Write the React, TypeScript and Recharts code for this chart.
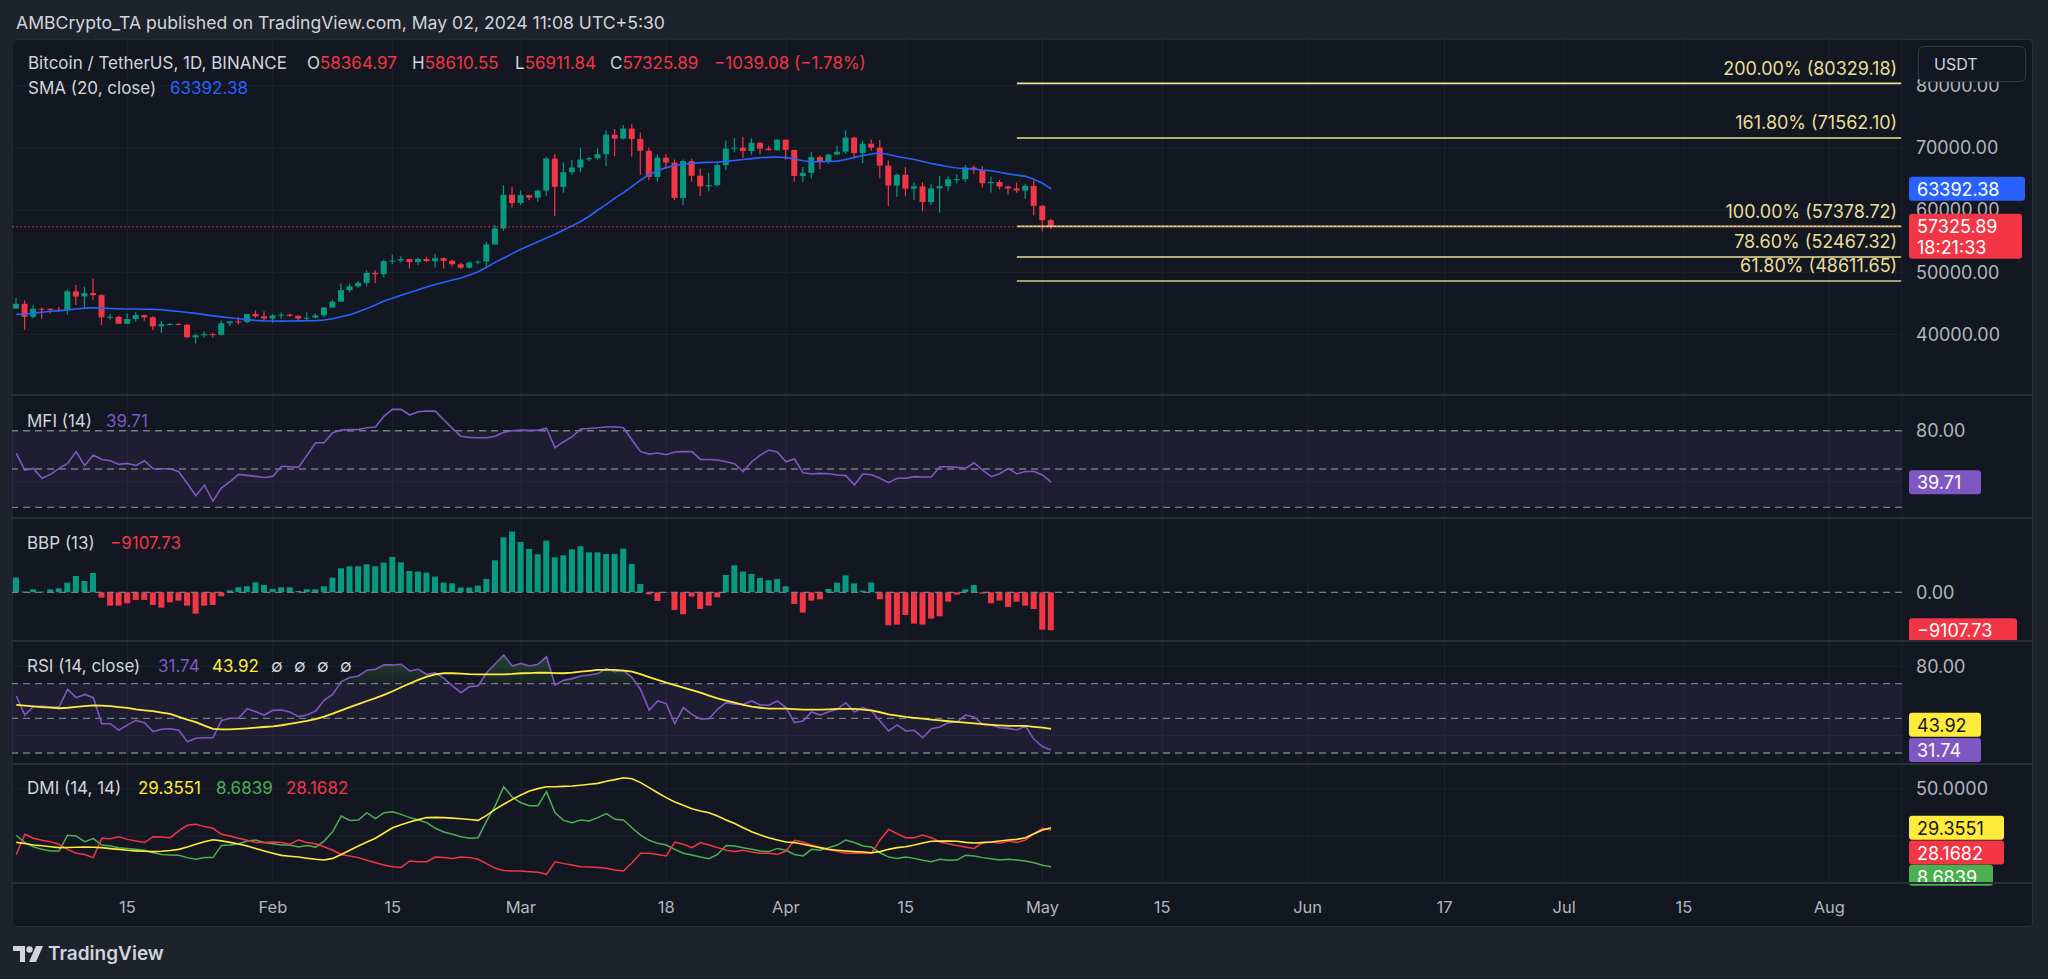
import React from "react";
import {
  ComposedChart,
  Bar,
  Line,
  Area,
  XAxis,
  YAxis,
  CartesianGrid,
  ReferenceLine,
  ReferenceArea,
  Cell,
} from "recharts";

// BTC/USDT 1D, index 0 = 2 Jan 2024 ... index 121 = 2 May 2024
const OPEN = [44180,44947,42845,44151,44145,43968,43929,46951,46110,46654,46339,42783,42848,41732,42511,43138,42776,41328,41659,41696,41580,39568,39898,40085,39961,41824,42121,42031,43303,42941,42580,43083,43200,43011,42583,42709,43099,44350,45289,47133,47751,48300,49917,49700,51795,51880,52124,51643,52138,51775,52259,51849,51288,50744,51568,51729,54476,57037,62432,61131,62388,61987,63114,68246,63724,66074,66823,68124,68313,68956,72078,71452,73072,71389,69500,65301,68393,67610,61937,67841,65501,63797,63990,67210,69880,69988,69470,70781,69851,69582,71280,69650,65464,65963,68488,67821,68896,69360,71620,69146,70631,70006,67117,63925,65662,63420,63793,61277,63470,63818,64941,64941,66819,66414,64290,64498,63770,63462,63119,63866,60672,58365];
const HIGH = [45900,45500,44730,44357,44214,44481,47249,47972,47696,48969,46516,43257,43079,43400,43578,43198,42930,42197,41873,41881,41690,40177,40555,40300,42247,42200,42843,43333,43882,43745,43285,43488,43380,43119,43570,43400,44397,45614,48200,48170,48593,50335,50369,52044,52817,52572,52163,52377,52489,52985,52367,52066,51549,51698,51950,54910,57588,64000,63676,63114,62433,63232,68499,69000,67641,68030,69990,68541,69888,72800,73000,73650,73777,72420,70043,68904,68956,68124,68100,68240,66650,65999,67629,71150,71561,71770,71552,70916,70321,71366,71288,69674,66904,69310,68757,69000,70326,72798,71758,71172,71306,71227,67929,65840,66867,64365,64499,64117,65450,65419,65696,67232,67183,67070,65298,64838,63923,64370,64228,64734,60842,58611];
const LOW = [44177,40750,42614,42450,43397,43572,43175,44749,44300,45606,41500,42436,41720,41718,42050,42201,40683,40280,41456,41501,39432,38555,39484,39550,39823,41394,41621,41805,42684,42277,41884,42547,42880,42222,42258,42574,42788,44331,45242,46800,47557,47710,48301,49225,51314,51566,50625,51163,51677,50760,50625,50941,50521,50585,51306,50901,54450,56692,60365,60777,61561,61320,62300,59005,62779,65656,66083,67861,68095,67025,68621,71333,68555,65600,64780,64533,66565,61555,60775,64529,62260,63000,63772,66385,69280,68359,68904,69009,69540,69563,68063,64550,64493,65065,66578,67448,68824,69043,68210,67518,69567,65087,60661,62134,62274,61600,59769,60803,59600,63090,64238,64500,65766,63606,62794,63297,62391,62781,61766,59192,56553,56912];
const CLOSE = [44947,42845,44151,44145,43968,43929,46951,46110,46654,46339,42783,42848,41732,42511,43138,42776,41328,41659,41696,41580,39568,39898,40085,39961,41824,42121,42031,43303,42941,42580,43083,43200,43011,42583,42709,43099,44350,45289,47133,47751,48300,49917,49700,51795,51880,52124,51643,52138,51775,52259,51849,51288,50744,51568,51729,54476,57037,62432,61131,62388,61987,63114,68246,63724,66074,66823,68124,68313,68956,72078,71452,73072,71389,69500,65301,68393,67610,61937,67841,65501,63797,63990,67210,69880,69988,69470,70781,69851,69582,71280,69650,65464,65963,68488,67821,68896,69360,71620,69146,70631,70006,67117,63925,65662,63420,63793,61277,63470,63818,64941,64941,66819,66414,64290,64498,63770,63462,63119,63866,60672,58365,57325.89];
const SMA20 = [43250,43300,43450,43600,43750,43850,43950,44100,44250,44300,44250,44200,44150,44120,44100,44080,44050,44000,43850,43700,43550,43400,43200,43000,42850,42700,42550,42400,42280,42200,42180,42170,42180,42200,42220,42250,42350,42550,42850,43200,43650,44200,44750,45400,45850,46300,46750,47200,47650,48050,48400,48750,49100,49550,50100,50800,51600,52300,53000,53700,54300,54900,55500,56100,56800,57450,58150,59000,60000,60900,61900,62800,63800,64800,65700,66300,66800,67150,67350,67500,67600,67650,67700,67800,67950,68100,68250,68400,68450,68500,68400,68200,67900,67750,67750,67800,67850,68100,68450,68750,69000,69150,68900,68600,68350,68100,67800,67450,67200,66950,66750,66650,66550,66400,66300,66050,65800,65600,65400,64950,64300,63392.38];
const MFI = [62.2,49.2,50.5,42.7,45.8,50.5,54.4,63.6,52.6,60.9,57.5,56.5,53.6,54.4,52.8,56.5,50.2,50.2,50.2,47.9,38.7,29.1,37.4,24.9,35.3,40.1,45.8,45.0,44.2,43.4,44.2,52.1,51.8,51.3,60.9,70.6,70.6,78.4,80.5,81.0,81.0,82.3,82.9,91.5,96.7,96.7,92.3,94.9,95.4,95.4,88.4,81.8,75.6,74.8,74.5,74.5,75.6,78.7,80.0,80.5,80.3,80.3,82.0,66.7,71.4,75.3,81.3,81.8,82.3,82.9,83.1,82.3,72.7,63.6,61.7,62.5,61.2,63.3,63.6,63.6,57.5,57.5,57.0,55.7,54.2,47.9,55.7,60.9,64.9,63.3,55.7,57.8,47.1,46.1,46.6,46.3,45.3,44.8,37.4,46.1,45.5,42.7,39.3,42.7,42.7,44.0,43.7,43.7,51.8,51.8,51.3,50.5,54.9,49.2,44.0,46.3,50.5,46.1,48.1,48.1,45.3,39.71];
const BBP = [3520,160,720,160,720,960,2320,3920,2720,4640,-1280,-3200,-3200,-2640,-1840,-1840,-3040,-3680,-2400,-2000,-3200,-5120,-3200,-3040,-960,480,1200,1440,2400,1760,800,1200,1200,320,720,720,1440,3520,5760,6240,6240,6720,6240,7120,8480,7200,5120,4960,4720,3760,2320,2160,1120,1120,1600,3200,7680,13200,14560,12080,10400,9120,12400,8400,8880,10320,11040,9600,9600,9200,9200,10480,6800,2000,-480,-2080,-100,-4240,-5280,-1040,-4000,-3200,-1200,4160,6480,4960,4400,3440,2880,3200,1440,-2800,-4880,-2000,-1680,800,2320,4080,2160,400,2320,-1680,-7920,-7760,-5440,-7520,-7760,-6320,-5760,-2240,-560,720,1760,-320,-2640,-2000,-3520,-2240,-3200,-4000,-8960,-9107.73];
const RSI = [62.9,51.9,56.7,57.1,56.5,56.5,66.7,61.9,63.8,61.9,46.9,46.9,43.1,46.2,48.8,47.5,42.3,43.7,44.0,43.1,36.5,38.5,38.8,38.8,48.8,50.0,50.0,55.6,53.8,51.9,54.6,54.8,53.7,51.0,51.9,54.2,60.4,63.8,71.2,73.5,74.4,77.7,78.3,80.8,80.8,81.2,77.3,78.3,75.4,76.3,73.1,68.7,64.8,68.3,68.7,76.3,81.5,86.5,80.2,81.7,80.2,81.2,85.5,69.2,71.9,72.9,74.4,75.0,75.8,78.7,76.9,77.7,73.5,66.7,54.8,60.0,58.5,46.9,56.2,52.3,49.6,49.8,55.2,59.0,58.1,58.1,60.0,57.7,57.5,60.0,56.2,47.5,48.5,53.7,51.9,53.8,55.2,59.0,53.7,56.2,54.2,48.5,42.7,46.2,42.7,43.1,38.8,44.0,45.0,47.5,47.9,51.9,50.8,46.5,46.2,44.6,44.2,43.3,45.6,37.9,33.7,31.74];
const RSI_MA = [57.7,57.3,56.9,56.5,56.2,55.8,56.1,56.6,57.0,57.5,57.3,57.0,56.5,56.0,55.2,54.6,54.1,53.3,52.5,50.8,49.2,47.8,45.8,43.9,43.6,43.6,43.9,44.2,44.6,45.0,45.4,46.0,46.8,47.6,48.5,49.6,51.0,52.7,54.6,56.5,58.2,60.0,61.6,63.5,65.6,67.9,70.1,72.2,74.0,75.4,76.0,76.0,75.8,75.5,75.4,75.4,75.4,75.4,75.6,76.0,76.1,76.3,76.3,76.1,76.0,76.3,76.9,77.4,77.9,78.0,77.9,77.5,76.9,75.5,73.8,72.2,70.6,69.2,67.7,66.2,64.8,63.1,61.5,60.2,59.0,57.8,56.7,56.1,55.6,55.6,55.6,55.3,55.0,55.0,55.0,55.2,55.4,55.4,55.4,55.0,54.6,53.5,52.3,51.5,50.8,50.3,49.8,49.3,48.8,48.3,47.9,47.5,47.1,46.6,46.2,45.9,45.6,45.6,45.6,45.1,44.6,43.92];
const ADX = [21.6,21.0,20.2,19.8,19.3,18.8,18.9,19.0,19.1,19.0,18.8,18.3,17.9,17.4,17.1,16.9,16.7,16.9,17.3,17.9,19.1,20.6,21.9,23.0,22.4,21.6,20.7,19.7,18.3,17.0,15.8,14.7,14.2,13.8,13.2,12.6,12.2,13.1,15.2,17.4,19.7,21.8,23.8,26.6,29.4,31.0,32.4,33.7,34.8,34.9,34.8,34.5,34.2,33.8,33.3,36.0,39.2,41.9,44.5,46.8,48.9,50.2,51.2,51.2,51.4,51.6,52.0,52.5,53.0,54.1,55.0,56.0,55.5,53.4,50.7,48.0,45.4,43.1,41.3,39.5,38.3,37.4,35.6,33.5,31.6,29.4,27.3,25.5,24.1,22.9,21.8,21.5,20.6,19.7,18.8,17.9,17.4,17.0,16.7,16.5,16.1,16.7,17.9,18.8,19.3,20.2,21.3,22.2,22.3,22.3,22.2,21.6,21.3,21.5,21.8,22.3,22.9,23.2,24.1,26.2,28.2,29.3551];
const PLUS_DI = [25.4,21.5,19.3,17.9,17.0,17.0,25.4,25.0,22.0,23.6,20.2,19.7,18.8,18.4,17.9,17.4,16.1,15.2,14.9,14.7,13.5,12.6,13.5,13.5,20.0,20.2,20.9,22.3,22.9,21.5,20.9,20.2,20.2,19.1,19.9,19.1,22.3,27.3,35.6,33.3,33.5,37.4,34.2,37.4,37.9,36.5,34.8,33.5,32.1,29.1,27.1,25.9,24.6,23.8,24.1,33.0,41.0,51.2,45.7,42.7,41.1,41.1,48.6,37.4,33.3,32.1,33.5,33.0,34.8,36.9,33.9,33.5,29.4,25.5,22.7,21.1,20.2,17.9,15.8,14.9,13.8,12.9,15.2,20.0,19.7,18.8,17.9,17.0,16.7,18.4,17.4,15.2,14.4,17.9,17.4,18.8,20.2,22.9,21.5,19.7,19.1,16.1,13.8,13.1,13.8,13.1,12.1,11.3,12.6,12.1,12.2,14.7,14.4,13.5,12.9,12.2,12.6,12.2,11.7,10.8,9.4,8.6839];
const MINUS_DI = [15.2,25.9,23.8,22.7,22.0,20.6,17.9,15.8,15.2,13.5,23.8,23.6,24.6,23.2,22.3,21.5,24.6,24.5,24.1,27.7,30.7,31.2,30.0,29.1,25.9,25.0,23.8,22.7,21.5,21.5,21.8,21.5,20.6,22.9,21.5,20.9,19.3,17.4,15.2,14.4,13.5,12.1,10.8,9.6,8.7,8.2,11.7,11.3,11.3,13.8,13.5,13.1,13.8,13.5,12.6,10.3,7.8,6.7,6.4,6.4,6.0,5.7,4.6,11.3,10.3,9.6,8.7,8.5,8.2,7.8,6.9,6.4,10.8,15.8,15.8,15.2,14.4,21.8,20.6,18.8,21.5,20.2,18.8,17.4,16.7,17.4,16.5,15.8,15.8,15.2,17.0,22.7,21.8,20.2,18.8,17.9,16.7,15.8,15.8,15.8,15.8,22.9,28.5,26.2,24.1,24.1,25.5,24.1,21.8,20.9,20.0,19.1,18.4,21.5,21.8,21.1,22.3,21.6,22.9,26.2,29.1,28.1682];

// time axis (day index -> label)
const TICK_IDX = [13, 30, 44, 59, 76, 90, 104, 120, 134, 151, 167, 181, 195, 212];
const TICK_LABELS = ["15", "Feb", "15", "Mar", "18", "Apr", "15", "May", "15", "Jun", "17", "Jul", "15", "Aug"];

// fib extension drawn from 28 Apr
const FIB_START = 117;
const FIB_PCT = ["200.00%", "161.80%", "100.00%", "78.60%", "61.80%"];
const FIB_PRICE = [80329.18, 71562.1, 57378.72, 52467.32, 48611.65];

const PRICE_TICKS = [40000, 50000, 60000, 70000, 80000];
const PRICE_DOMAIN: [number, number] = [30305, 87448];

const UP = "#089981";
const DOWN = "#f23645";
const PURPLE = "#7e57c2";
const YELLOW = "#ffeb3b";
const GREEN = "#4caf50";
const BLUE = "#2962ff";
const TXT = "#d1d4dc";
const AXIS_TXT = "#b2b5be";
const GRID = "#1f232e";
const HLINE = "#787b86";
const FONT = "Inter, 'Noto Sans', sans-serif";
const AXIS_FS = 18;

const rows = CLOSE.map((c, i) => ({
  i,
  o: OPEN[i],
  h: HIGH[i],
  l: LOW[i],
  c,
  sma: SMA20[i],
  mfi: MFI[i],
  bbp: BBP[i],
  rsi: RSI[i],
  rsiMa: RSI_MA[i],
  adx: ADX[i],
  pdi: PLUS_DI[i],
  mdi: MINUS_DI[i],
}));

const LEFT = 12;
const CHART_W = 2021;
const AXIS_W = 131;
const X_DOMAIN: [number, number] = [-0.5, 220.5];

function Candle(props: any) {
  const { x, y, width, height, payload } = props;
  if (!payload || height == null) return null;
  const { o, h, l, c } = payload;
  const color = c >= o ? UP : DOWN;
  const span = h - l || 1;
  const py = (v: number) => y + ((h - v) / span) * height;
  const cx = x + width / 2;
  const top = py(Math.max(o, c));
  const bot = py(Math.min(o, c));
  return (
    <g>
      <line x1={cx} x2={cx} y1={y} y2={y + height} stroke={color} strokeWidth={1.2} />
      <rect x={x} y={top} width={width} height={Math.max(1, bot - top)} fill={color} />
    </g>
  );
}

function Tag(props: any) {
  const { viewBox, lines, bg, fg = "#ffffff", w, h = 24, dy = 0 } = props;
  if (!viewBox) return null;
  const x = viewBox.x + viewBox.width + 7;
  const top = viewBox.y + dy - 12;
  return (
    <g>
      <rect x={x} y={top} width={w} height={h} rx={3} fill={bg} />
      {lines.map((t: string, k: number) => (
        <text
          key={k}
          x={x + 8}
          y={top + 12.5 + k * 21}
          dominantBaseline="central"
          fill={fg}
          fontSize={AXIS_FS}
          fontFamily={FONT}
        >
          {t}
        </text>
      ))}
    </g>
  );
}

function FibLabel(props: any) {
  const { viewBox, text } = props;
  if (!viewBox) return null;
  return (
    <text
      x={viewBox.x + viewBox.width - 4}
      y={viewBox.y - 15}
      textAnchor="end"
      dominantBaseline="central"
      fill="#e9de96"
      fontSize={18}
      fontFamily={FONT}
    >
      {text}
    </text>
  );
}

const hiddenX = () => (
  <XAxis dataKey="i" type="number" domain={X_DOMAIN} ticks={TICK_IDX} allowDataOverflow hide />
);

// ticks listed in `silent` keep their grid line but their text sits under a value tag
const rightAxis = (domain: [number, number], ticks: number[], digits: number, silent: number[] = []) => (
  <YAxis
    orientation="right"
    domain={domain}
    ticks={ticks}
    allowDataOverflow
    interval={0}
    width={AXIS_W}
    axisLine={false}
    tickLine={false}
    tickSize={0}
    tickMargin={14}
    tick={{ fill: AXIS_TXT, fontSize: AXIS_FS, fontFamily: FONT }}
    tickFormatter={(v: number) => (silent.includes(v) ? "" : v.toFixed(digits))}
  />
);

function T({ x, y, color = TXT, size = 17, weight = 400, children }: any) {
  return (
    <div
      style={{
        position: "absolute",
        left: x,
        top: y - 10,
        lineHeight: "20px",
        fontSize: size,
        fontWeight: weight,
        color,
        fontFamily: FONT,
        whiteSpace: "nowrap",
      }}
    >
      {children}
    </div>
  );
}

const paneStyle = (top: number): React.CSSProperties => ({ position: "absolute", left: LEFT, top });

export default function App() {
  const last = rows.length - 1;
  return (
    <div
      style={{
        position: "absolute",
        left: 0,
        top: 0,
        width: 2048,
        height: 979,
        background: "#1e222d",
        overflow: "hidden",
        fontFamily: FONT,
      }}
    >
      <T x={16} y={23} size={17.6}>
        AMBCrypto_TA published on TradingView.com, May 02, 2024 11:08 UTC+5:30
      </T>

      <div
        style={{
          position: "absolute",
          left: LEFT,
          top: 39,
          width: CHART_W,
          height: 888,
          background: "#131722",
          border: "1px solid #2a2e39",
          boxSizing: "border-box",
          borderRadius: 4,
        }}
      />

      {/* price pane */}
      <div style={paneStyle(39)}>
        <ComposedChart width={CHART_W} height={356} data={rows} margin={{ top: 0, right: 0, bottom: 0, left: 0 }}>
          <CartesianGrid stroke={GRID} />
          {hiddenX()}
          {rightAxis(PRICE_DOMAIN, PRICE_TICKS, 2)}
          {FIB_PRICE.map((p, k) => (
            <ReferenceLine
              key={k}
              segment={[
                { x: FIB_START, y: p },
                { x: 220.4, y: p },
              ]}
              stroke={k === 4 ? "#d2cc92" : "#ece28e"}
              strokeWidth={1.6}
              label={<FibLabel text={`${FIB_PCT[k]} (${p.toFixed(2)})`} />}
            />
          ))}
          <Bar dataKey={(d: any) => [d.l, d.h]} barSize={6} shape={<Candle />} isAnimationActive={false} />
          <Line dataKey="sma" stroke={BLUE} strokeWidth={1.6} dot={false} type="linear" isAnimationActive={false} />
          <ReferenceLine y={CLOSE[last]} stroke={DOWN} strokeDasharray="1.5 2.5" strokeWidth={1} />
        </ComposedChart>
      </div>

      {/* price tags drawn above the price scale text */}
      <div style={paneStyle(39)}>
        <ComposedChart width={CHART_W} height={356} data={rows} margin={{ top: 0, right: 0, bottom: 0, left: 0 }}>
          {hiddenX()}
          <YAxis
            orientation="right"
            domain={PRICE_DOMAIN}
            allowDataOverflow
            width={AXIS_W}
            tick={false}
            axisLine={false}
            tickLine={false}
          />
          <ReferenceLine
            y={CLOSE[last]}
            stroke="none"
            label={<Tag lines={["57325.89", "18:21:33"]} bg={DOWN} w={113} h={45} dy={-1} />}
          />
          <ReferenceLine y={SMA20[last]} stroke="none" label={<Tag lines={["63392.38"]} bg={BLUE} w={116} />} />
        </ComposedChart>
      </div>

      {/* MFI */}
      <div style={paneStyle(395)}>
        <ComposedChart width={CHART_W} height={123} data={rows} margin={{ top: 0, right: 0, bottom: 0, left: 0 }}>
          <CartesianGrid stroke={GRID} />
          {hiddenX()}
          {rightAxis([11.6, 108], [40, 80], 2, [40])}
          <ReferenceArea y1={20} y2={80} fill={PURPLE} fillOpacity={0.1} stroke="none" />
          <ReferenceLine y={80} stroke={HLINE} strokeDasharray="7 5" strokeWidth={1.3} />
          <ReferenceLine y={50} stroke={HLINE} strokeDasharray="7 5" strokeWidth={1.3} />
          <ReferenceLine y={20} stroke={HLINE} strokeDasharray="7 5" strokeWidth={1.3} />
          <Line dataKey="mfi" stroke={PURPLE} strokeWidth={1.6} dot={false} type="linear" isAnimationActive={false} />
          <ReferenceLine y={MFI[last]} stroke="none" label={<Tag lines={["39.71"]} bg={PURPLE} w={72} />} />
        </ComposedChart>
      </div>

      {/* BBP */}
      <div style={paneStyle(518)}>
        <ComposedChart width={CHART_W} height={123} data={rows} margin={{ top: 0, right: 0, bottom: 0, left: 0 }}>
          <CartesianGrid stroke={GRID} horizontal={false} />
          {hiddenX()}
          {rightAxis([-11690, 17830], [0], 2)}
          <Bar dataKey="bbp" barSize={6} isAnimationActive={false}>
            {rows.map((d, k) => (
              <Cell key={k} fill={d.bbp >= 0 ? UP : DOWN} />
            ))}
          </Bar>
          <ReferenceLine y={0} stroke={HLINE} strokeDasharray="7 5" strokeWidth={1.3} />
          <ReferenceLine y={BBP[last]} stroke="none" label={<Tag lines={["\u22129107.73"]} bg={DOWN} w={108} />} />
        </ComposedChart>
      </div>

      {/* RSI */}
      <div style={paneStyle(641)}>
        <ComposedChart width={CHART_W} height={123} data={rows} margin={{ top: 0, right: 0, bottom: 0, left: 0 }}>
          <defs>
            <linearGradient id="rsiOb" x1="0" y1="0" x2="0" y2="1">
              <stop offset="0%" stopColor={GREEN} stopOpacity={0.5} />
              <stop offset="100%" stopColor={GREEN} stopOpacity={0.12} />
            </linearGradient>
          </defs>
          <CartesianGrid stroke={GRID} />
          {hiddenX()}
          {rightAxis([23.65, 94.6], [40, 80], 2, [40])}
          <ReferenceArea y1={30} y2={70} fill={PURPLE} fillOpacity={0.1} stroke="none" />
          <ReferenceLine y={70} stroke={HLINE} strokeDasharray="7 5" strokeWidth={1.3} />
          <ReferenceLine y={50} stroke={HLINE} strokeDasharray="7 5" strokeWidth={1.3} />
          <ReferenceLine y={30} stroke={HLINE} strokeDasharray="7 5" strokeWidth={1.3} />
          <Area
            dataKey={(d: any) => [70, Math.max(70, d.rsi)]}
            stroke="none"
            fill="url(#rsiOb)"
            type="linear"
            isAnimationActive={false}
          />
          <Line dataKey="rsi" stroke={PURPLE} strokeWidth={1.6} dot={false} type="linear" isAnimationActive={false} />
          <Line dataKey="rsiMa" stroke={YELLOW} strokeWidth={1.8} dot={false} type="linear" isAnimationActive={false} />
          <ReferenceLine y={RSI_MA[last]} stroke="none" label={<Tag lines={["43.92"]} bg={YELLOW} fg="#131722" w={72} dy={-4} />} />
          <ReferenceLine y={RSI[last]} stroke="none" label={<Tag lines={["31.74"]} bg={PURPLE} w={72} />} />
        </ComposedChart>
      </div>

      {/* DMI + time axis */}
      <div style={paneStyle(764)}>
        <ComposedChart width={CHART_W} height={163} data={rows} margin={{ top: 0, right: 0, bottom: 0, left: 0 }}>
          <CartesianGrid stroke={GRID} />
          <XAxis
            dataKey="i"
            type="number"
            domain={X_DOMAIN}
            ticks={TICK_IDX}
            allowDataOverflow
            interval={0}
            height={44}
            axisLine={false}
            tickLine={false}
            tickSize={0}
            tickMargin={18}
            tick={{ fill: AXIS_TXT, fontSize: 16.5, fontFamily: FONT }}
            tickFormatter={(v: number) => TICK_LABELS[TICK_IDX.indexOf(v)] ?? ""}
          />
          {rightAxis([0, 63.3], [25, 50], 4, [25])}
          <Line dataKey="pdi" stroke={GREEN} strokeWidth={1.5} dot={false} type="linear" isAnimationActive={false} />
          <Line dataKey="mdi" stroke={DOWN} strokeWidth={1.5} dot={false} type="linear" isAnimationActive={false} />
          <Line dataKey="adx" stroke={YELLOW} strokeWidth={1.6} dot={false} type="linear" isAnimationActive={false} />
          <ReferenceLine y={ADX[last]} stroke="none" label={<Tag lines={["29.3551"]} bg={YELLOW} fg="#131722" w={95} />} />
          <ReferenceLine y={MINUS_DI[last]} stroke="none" label={<Tag lines={["28.1682"]} bg={DOWN} w={95} dy={22.5} />} />
          <ReferenceLine y={PLUS_DI[last]} stroke="none" label={<Tag lines={["8.6839"]} bg={GREEN} w={84} h={21} dy={10} />} />
        </ComposedChart>
      </div>

      {/* pane separators */}
      {[395, 518, 641, 764, 883].map((y) => (
        <div key={y} style={{ position: "absolute", left: LEFT, top: y - 1, width: CHART_W, height: 2, background: "#2a2e39" }} />
      ))}

      {/* USDT unit box */}
      <div
        style={{
          position: "absolute",
          left: 1918,
          top: 46,
          width: 108,
          height: 36,
          boxSizing: "border-box",
          border: "1px solid #363a45",
          borderRadius: 6,
          background: "#131722",
          color: TXT,
          fontSize: 16,
          lineHeight: "34px",
          paddingLeft: 15,
          fontFamily: FONT,
        }}
      >
        USDT
      </div>

      {/* legends */}
      <T x={28} y={63}>Bitcoin / TetherUS, 1D, BINANCE</T>
      <T x={307} y={63}>O<span style={{ color: DOWN }}>58364.97</span></T>
      <T x={412} y={63}>H<span style={{ color: DOWN }}>58610.55</span></T>
      <T x={515} y={63}>L<span style={{ color: DOWN }}>56911.84</span></T>
      <T x={610} y={63}>C<span style={{ color: DOWN }}>57325.89</span></T>
      <T x={714} y={63} color={DOWN}>{"\u22121039.08 (\u22121.78%)"}</T>
      <T x={28} y={88}>SMA (20, close)</T>
      <T x={170} y={88} color={BLUE}>63392.38</T>

      <T x={27} y={421}>MFI (14)</T>
      <T x={106} y={421} color={PURPLE}>39.71</T>

      <T x={27} y={543}>BBP (13)</T>
      <T x={110} y={543} color={DOWN}>{"\u22129107.73"}</T>

      <T x={27} y={666}>RSI (14, close)</T>
      <T x={158} y={666} color={PURPLE}>31.74</T>
      <T x={212} y={666} color={YELLOW}>43.92</T>
      {[271, 294, 317, 340].map((x) => (
        <T key={x} x={x} y={666}>∅</T>
      ))}

      <T x={27} y={788}>DMI (14, 14)</T>
      <T x={138} y={788} color={YELLOW}>29.3551</T>
      <T x={216} y={788} color={GREEN}>8.6839</T>
      <T x={286} y={788} color={DOWN}>28.1682</T>

      {/* TradingView footer */}
      <svg style={{ position: "absolute", left: 13, top: 944 }} width={32} height={20} viewBox="0 0 32 20">
        <path d="M0 2 H12 V18 H7 V7 H0 Z" fill={TXT} />
        <circle cx={16.5} cy={5.5} r={3.2} fill={TXT} />
        <path d="M23 2 H30 L23 18 H16 Z" fill={TXT} />
      </svg>
      <T x={48} y={954} size={19} weight={600}>TradingView</T>
    </div>
  );
}
